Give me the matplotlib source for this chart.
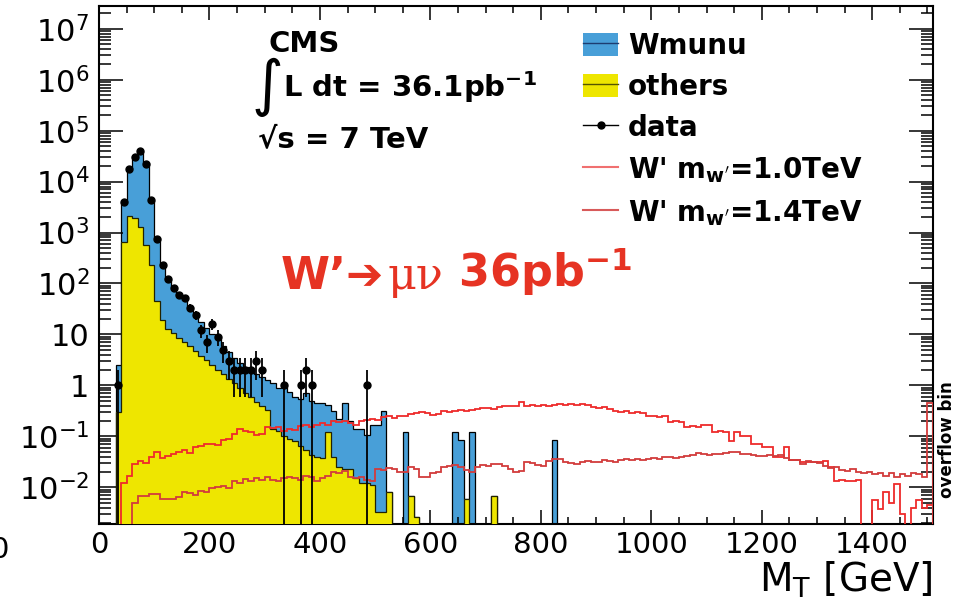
import numpy as np
import matplotlib
matplotlib.use("Agg")
import matplotlib.pyplot as plt
from matplotlib.patches import Patch
from matplotlib.lines import Line2D
from matplotlib.ticker import (MultipleLocator, FixedLocator, FixedFormatter,
                               LogLocator, NullFormatter)

plt.rcParams['font.family'] = ['DejaVu Sans']

# 10 GeV bins from 0 to 1500, plus one overflow bin (1500-1510)
bin_width = 10
mt_edges = np.arange(0, 1510 + bin_width, bin_width)

# stacked MC, bins starting at 30 GeV (30, 40, ..., 520)
mc_start = 30
others_low = [
    0.3,
    665, 2150, 1960, 1300, 575, 230,
    45, 19, 13, 10.7, 8.7, 7.1, 5.8, 4.7, 3.8, 3.1,
    2.5, 2.0, 1.66, 1.35, 1.1, 0.89, 0.72, 0.59, 0.48, 0.39,
    0.33, 0.14, 0.13, 0.10, 0.09, 0.08, 0.066, 0.055, 0.043, 0.040,
    0.037, 0.12, 0.040, 0.025, 0.023, 0.023, 0.015, 0.012, 0.012, 0.011,
    0.0033, 0.0033, 0.008,
]
wmunu_low = [
    2.2,
    3400, 15600, 29600, 38700, 22400, 4000,
    735, 211, 110, 74, 50, 41, 29, 20, 14, 10,
    7.5, 6.0, 4.3, 3.15, 2.4, 1.8, 1.6, 1.4, 1.2, 1.1,
    0.97, 0.96, 0.77, 0.9, 0.66, 0.52, 0.48, 0.645, 0.457, 0.41,
    0.413, 0.30, 0.28, 0.195, 0.427, 0.177, 0.125, 0.128, 0.093, 0.159,
    0.167, 0.317, 0.0,
]

# isolated MC entries in the high-MT tail (bin low edge in GeV)
wmunu_tail_bins = [550, 640, 650, 670, 820]
wmunu_tail_vals = [0.12, 0.12, 0.085, 0.12, 0.085]
others_tail_bins = [560, 570, 660, 710]
others_tail_vals = [0.0066, 0.0026, 0.006, 0.0066]

# data: bin centres [GeV] and event counts
data_mt = [35, 45, 55, 65, 75, 85, 95, 105, 115, 125, 135, 145, 155, 165,
           175, 185, 195, 205, 215, 225, 235, 245, 255, 265, 275, 285, 295,
           335, 365, 375, 385, 485]
data_n = [1, 4000, 17500, 31000, 40500, 22500, 4300, 740, 235, 120, 83, 59,
          51, 33, 24, 12, 7, 16, 9, 5, 3, 2, 2, 2, 2, 3, 2,
          1, 1, 2, 1, 1]

# W' signal shapes, 10 GeV bins
wp10_start = 40
wp10 = [
    0.012, 0.017, 0.028, 0.033, 0.030, 0.040,
    0.050, 0.038, 0.042, 0.045, 0.050, 0.055, 0.048, 0.062, 0.065, 0.070,
    0.072, 0.068, 0.085, 0.090, 0.110, 0.140, 0.130, 0.120, 0.105, 0.110,
    0.150, 0.145, 0.150, 0.130, 0.140, 0.135, 0.160, 0.165, 0.155, 0.170,
    0.180, 0.170, 0.200, 0.190, 0.200, 0.180, 0.170, 0.200, 0.210, 0.220,
    0.210, 0.240, 0.245, 0.230, 0.245, 0.250, 0.280, 0.290, 0.300, 0.290,
    0.260, 0.270, 0.310, 0.300, 0.320, 0.330, 0.320, 0.330, 0.340, 0.360,
    0.360, 0.350, 0.370, 0.400, 0.390, 0.400, 0.470, 0.400, 0.410, 0.400,
    0.410, 0.400, 0.420, 0.430, 0.420, 0.430, 0.420, 0.430, 0.420, 0.380,
    0.360, 0.370, 0.350, 0.320, 0.300, 0.310, 0.290, 0.300, 0.290, 0.250,
    0.245, 0.240, 0.250, 0.190, 0.200, 0.190, 0.155, 0.160, 0.150, 0.165,
    0.165, 0.120, 0.125, 0.120, 0.080, 0.123, 0.100, 0.100, 0.072, 0.072,
    0.063, 0.063, 0.040, 0.040, 0.063, 0.035, 0.035, 0.032, 0.032, 0.031,
    0.032, 0.033, 0.025, 0.0135, 0.014, 0.013, 0.0135, 0.014, 0.0, 0.0,
    0.0056, 0.0038, 0.0081, 0.005, 0.0118, 0.003, 0.0, 0.004, 0.0056, 0.004,
]
wp10_overflow = 0.0045

wp14_start = 60
wp14 = [
    0.005, 0.0068, 0.0068, 0.0075,
    0.0075, 0.006, 0.006, 0.006, 0.0065, 0.008, 0.0078, 0.0072, 0.0085, 0.008,
    0.0095, 0.010, 0.0105, 0.0095, 0.013, 0.012, 0.0145, 0.013, 0.015, 0.014,
    0.016, 0.014, 0.013, 0.015, 0.016, 0.015, 0.014, 0.017, 0.016, 0.013,
    0.015, 0.017, 0.020, 0.019, 0.021, 0.016, 0.015, 0.016, 0.014, 0.013,
    0.023, 0.022, 0.024, 0.023, 0.020, 0.020, 0.025, 0.023, 0.016, 0.016,
    0.019, 0.020, 0.025, 0.026, 0.027, 0.025, 0.022, 0.020, 0.025, 0.027,
    0.026, 0.028, 0.029, 0.026, 0.023, 0.020, 0.021, 0.031, 0.030, 0.027,
    0.026, 0.033, 0.036, 0.036, 0.031, 0.030, 0.029, 0.031, 0.033, 0.032,
    0.031, 0.034, 0.033, 0.031, 0.034, 0.036, 0.035, 0.036, 0.035, 0.036,
    0.037, 0.036, 0.039, 0.040, 0.038, 0.040, 0.042, 0.043, 0.046, 0.044,
    0.043, 0.044, 0.045, 0.046, 0.050, 0.049, 0.045, 0.044, 0.043, 0.042,
    0.042, 0.043, 0.042, 0.043, 0.038, 0.034, 0.035, 0.029, 0.033, 0.031,
    0.030, 0.026, 0.024, 0.025, 0.022, 0.021, 0.023, 0.020, 0.019, 0.020,
    0.018, 0.019, 0.017, 0.019, 0.016, 0.018, 0.017, 0.019, 0.018, 0.016,
]
wp14_overflow = 0.45

y_ticks = [1e-2, 1e-1, 1, 10, 1e2, 1e3, 1e4, 1e5, 1e6, 1e7]
y_tick_labels = ['$10^{-2}$', '$10^{-1}$', '1', '10', '$10^{2}$', '$10^{3}$',
                 '$10^{4}$', '$10^{5}$', '$10^{6}$', '$10^{7}$']

BLUE = '#489fd8'
YELLOW = '#eee600'
RED10 = '#ee2b2b'
RED14 = '#d23c3c'
RED_TEXT = '#e63323'

n_bins = len(mt_edges) - 1


def to_bins(start, vals):
    out = np.zeros(n_bins)
    i = int(start // bin_width)
    vals = np.asarray(vals, dtype=float)[:n_bins - i]
    out[i:i + len(vals)] = vals
    return out


others = to_bins(mc_start, others_low)
wmunu = to_bins(mc_start, wmunu_low)
for b, v in zip(wmunu_tail_bins, wmunu_tail_vals):
    wmunu[b // bin_width] += v
for b, v in zip(others_tail_bins, others_tail_vals):
    others[b // bin_width] += v
total = others + wmunu

sig10 = to_bins(wp10_start, wp10)
sig10[-1] = wp10_overflow
sig14 = to_bins(wp14_start, wp14)
sig14[-1] = wp14_overflow

floor = 1e-4  # empty bins are drawn below the visible range


def clip(v):
    return np.where(v > 0, v, floor)


W, H = 959, 599
fig = plt.figure(figsize=(W / 100, H / 100), dpi=100)
ax = fig.add_axes([99 / W, 1 - 524 / H, (933 - 99) / W, (524 - 6) / H])

# stacked MC
ax.stairs(clip(total), mt_edges, fill=True, color=BLUE, baseline=floor, zorder=1)
ax.stairs(clip(total), mt_edges, color='k', lw=0.9, baseline=floor, zorder=2)
ax.stairs(clip(others), mt_edges, fill=True, color=YELLOW, baseline=floor, zorder=3)
ax.stairs(clip(others), mt_edges, color='#222200', lw=0.9, baseline=floor, zorder=4)

# signals
ax.stairs(clip(sig10), mt_edges, color=RED10, lw=1.3, baseline=floor, zorder=5)
ax.stairs(clip(sig14), mt_edges, color=RED14, lw=1.3, baseline=floor, zorder=5)

# data
n = np.asarray(data_n, dtype=float)
err = np.sqrt(n)
err_lo = np.minimum(err, n * (1 - 1e-6))
ax.errorbar(data_mt, n, xerr=bin_width / 2, yerr=[err_lo, err], fmt='o',
            color='k', ms=5, lw=1.3, capsize=0, zorder=6)

ax.set_yscale('log')
ax.set_xlim(0, 1510)
ax.set_ylim(1.9e-3, 2.8e7)

ax.xaxis.set_major_locator(MultipleLocator(200))
ax.xaxis.set_minor_locator(MultipleLocator(50))
ax.yaxis.set_major_locator(FixedLocator(y_ticks))
ax.yaxis.set_major_formatter(FixedFormatter(y_tick_labels))
ax.yaxis.set_minor_locator(LogLocator(base=10, subs=np.arange(2, 10), numticks=30))
ax.yaxis.set_minor_formatter(NullFormatter())

ax.tick_params(which='both', direction='in', top=True, right=True, width=1.1)
ax.tick_params(axis='x', which='major', length=10, pad=5, labelsize=21)
ax.tick_params(axis='x', which='minor', length=5)
ax.tick_params(axis='y', which='major', length=17, pad=7, labelsize=22)
ax.tick_params(axis='y', which='minor', length=8.5)
for s in ax.spines.values():
    s.set_linewidth(1.5)

ax.set_xlabel(r'M$_\mathrm{T}$ [GeV]', fontsize=28, loc='right')
ax.xaxis.set_label_coords(1.0, -0.068)

# legend
handles = [
    (Patch(facecolor=BLUE, edgecolor='none'), Line2D([], [], color='#1d3d70', lw=1)),
    (Patch(facecolor=YELLOW, edgecolor='none'), Line2D([], [], color='#555500', lw=1)),
    Line2D([], [], color='k', marker='o', ms=5, lw=1),
    Line2D([], [], color='#f07070', lw=1.5),
    Line2D([], [], color='#d85a5a', lw=1.5),
]
labels = ['Wmunu', 'others', 'data',
          r"W' m$_{\mathbf{w'}}$=1.0TeV", r"W' m$_{\mathbf{w'}}$=1.4TeV"]
ax.legend(handles, labels, loc='upper left',
          bbox_to_anchor=(583 / W, 1 - 32 / H), bbox_transform=fig.transFigure,
          frameon=False, prop=dict(weight='bold', size=20),
          handlelength=1.26, handleheight=0.94, handletextpad=0.36,
          labelspacing=0.47, borderpad=0, borderaxespad=0)

# CMS labels
fig.text(268 / W, 1 - 52 / H, 'CMS', fontsize=21, weight='bold', va='baseline')
fig.text(252 / W, 1 - 87 / H, '∫', fontsize=44, va='center')
fig.text(283 / W, 1 - 97 / H, r'L dt = 36.1pb$^{\mathbf{-1}}$', fontsize=21,
         weight='bold', va='baseline')
fig.text(258 / W, 1 - 147 / H, '√s = 7 TeV', fontsize=21, weight='bold',
         va='baseline')

t1 = fig.text(281 / W, 1 - 289 / H, 'W’➔', color=RED_TEXT, fontsize=32,
              weight='bold', va='baseline')
t2 = ax.annotate('μν', xy=(1, 0), xycoords=t1, xytext=(2, 0),
                 textcoords='offset points', ha='left', va='bottom',
                 color=RED_TEXT, fontsize=32, family='DejaVu Serif')
ax.annotate(r' 36pb$^{\mathbf{-1}}$', xy=(1, 0), xycoords=t2, ha='left',
            va='bottom', color=RED_TEXT, fontsize=32, weight='bold')

fig.text(947 / W, 1 - 440 / H, 'overflow bin', rotation=90, ha='center',
         va='center', fontsize=12, weight='bold')
fig.text(-10 / W, 1 - 558 / H, '0', fontsize=21, va='baseline')

fig.savefig('out.png', dpi=100)
